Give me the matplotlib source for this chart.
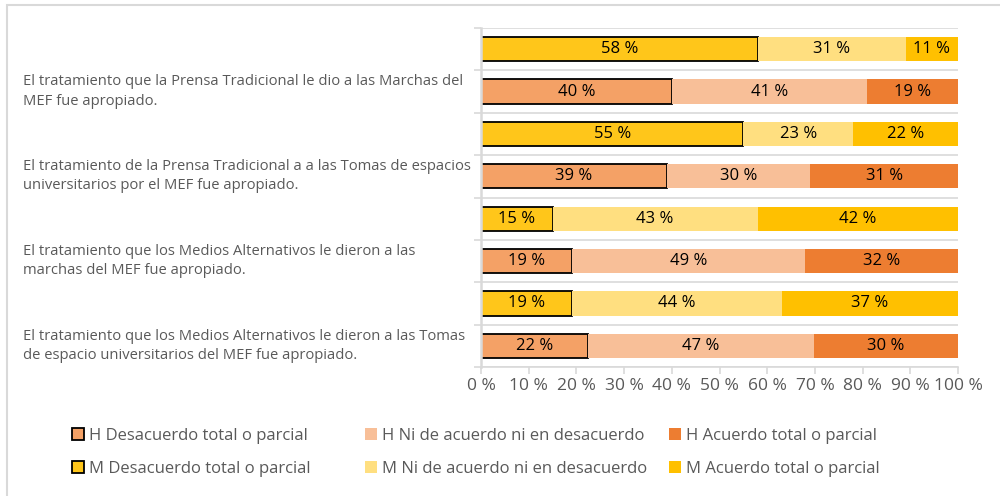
import matplotlib

matplotlib.use("Agg")
import matplotlib.pyplot as plt  # noqa: E402
import matplotlib.transforms as mtransforms  # noqa: E402
from matplotlib.patches import Patch, Rectangle  # noqa: E402

plt.rcParams["font.family"] = ["Open Sans", "DejaVu Sans"]

categories = [
    "El tratamiento que la Prensa Tradicional le dio a las Marchas del\nMEF fue apropiado.",
    "El tratamiento de la Prensa Tradicional a a las Tomas de espacios\nuniversitarios por el MEF fue apropiado.",
    "El tratamiento que los Medios Alternativos le dieron a las\nmarchas del MEF fue apropiado.",
    "El tratamiento que los Medios Alternativos le dieron a las Tomas\nde espacio universitarios del MEF fue apropiado.",
]

# porcentajes por grupo (M = mujeres, H = hombres)
m_des = [58, 55, 15, 19]
m_ni = [31, 23, 43, 44]
m_ac = [11, 22, 42, 37]
h_des = [40, 39, 19, 22.4]
h_ni = [41, 30, 49, 47.4]
h_ac = [19, 31, 32, 30.2]

series_names = [
    "H Desacuerdo total o parcial", "H Ni de acuerdo ni en desacuerdo", "H Acuerdo total o parcial",
    "M Desacuerdo total o parcial", "M Ni de acuerdo ni en desacuerdo", "M Acuerdo total o parcial",
]
colors = ["#F4A166", "#F8BF98", "#ED7D31", "#FFC61A", "#FFDF80", "#FFC000"]
ticks = list(range(0, 101, 10))

GRID = "#D9D9D9"
TXT = "#595959"

fig = plt.figure(figsize=(10, 4.96), dpi=100)
ax = fig.add_axes([0.481, 1 - 367 / 496, 0.477, 339 / 496])

for i in range(len(categories)):
    y_m, y_h = 2 * i, 2 * i + 1
    for vals, y, cols in (((m_des, m_ni, m_ac), y_m, colors[3:]),
                          ((h_des, h_ni, h_ac), y_h, colors[:3])):
        left = 0
        for j, (v, c) in enumerate(zip(vals, cols)):
            val = v[i]
            edge = "black" if j == 0 else c
            lw = 1.3 if j == 0 else 0
            ax.barh(y, val, left=left, height=0.57, color=c, edgecolor=edge, linewidth=lw)
            ax.text(left + val / 2, y, f"{val:.0f} %", ha="center", va="center",
                    fontsize=12, color="black")
            left += val

ax.set_xlim(0, 100)
ax.set_ylim(7.5, -0.5)
ax.set_xticks(ticks)
ax.set_xticklabels([f"{t} %" for t in ticks], fontsize=12.5, color=TXT)
ax.set_yticks([])
ax.set_yticks([k - 0.5 for k in range(9)], minor=True)
ax.tick_params(axis="y", which="minor", length=5, color=GRID, width=1.2)
ax.tick_params(axis="x", length=5, color=GRID, width=1.2, pad=3)
ax.grid(axis="y", which="minor", color=GRID, linewidth=1.2)
ax.set_axisbelow(True)
for s in ("top", "right"):
    ax.spines[s].set_visible(False)
ax.spines["left"].set_color(GRID)
ax.spines["left"].set_linewidth(1.8)
ax.spines["bottom"].set_color(GRID)
ax.spines["bottom"].set_linewidth(1.2)

trans = mtransforms.blended_transform_factory(fig.transFigure, ax.transData)
for i, lab in enumerate(categories):
    ax.text(0.023, 2 * i + 1, lab, transform=trans, ha="left", va="center",
            fontsize=10.6, color=TXT, linespacing=1.38)

# leyenda manual en dos filas
leg_x = [0.072, 0.365, 0.669]
leg_y = [1 - 436 / 496, 1 - 469 / 496]
for k, name in enumerate(series_names):
    j = k % 3
    c = colors[k]
    h = Patch(facecolor=c, edgecolor="black" if j == 0 else c, linewidth=1.3 if j == 0 else 0)
    lg = fig.legend(handles=[h], labels=[name], loc="center left",
                    bbox_to_anchor=(leg_x[j], leg_y[k // 3]), frameon=False,
                    fontsize=12, handlelength=0.7, handleheight=0.7, handletextpad=0.3,
                    borderpad=0, borderaxespad=0)
    for t in lg.get_texts():
        t.set_color(TXT)

fig.patches.append(Rectangle((0.007, -0.1), 1.2, 1.1 - 5 / 496, transform=fig.transFigure,
                             fill=False, edgecolor=GRID, linewidth=1.5, clip_on=False))

fig.savefig("out.png", dpi=100)
